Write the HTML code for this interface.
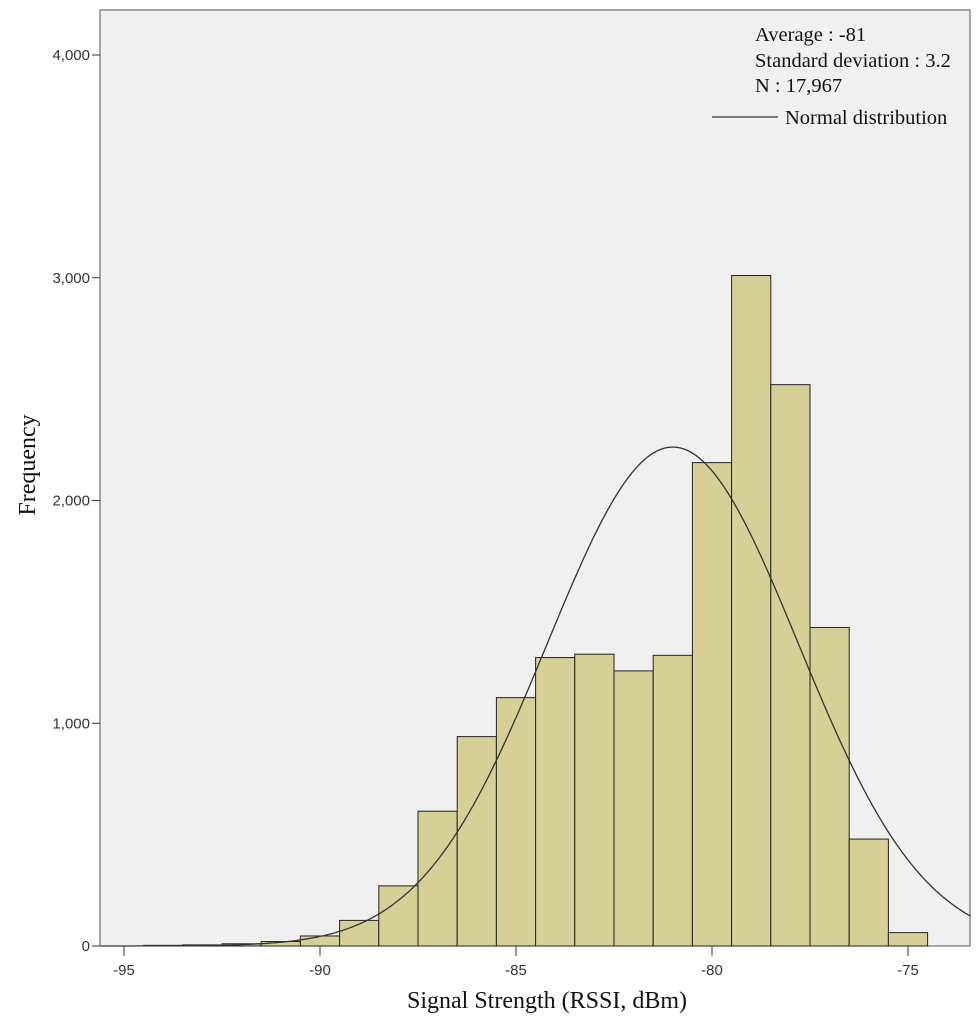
<!DOCTYPE html>
<html><head><meta charset="utf-8"><style>
body{margin:0;background:#fff;}
svg{display:block;font-family:"Liberation Sans",sans-serif;}
</style></head><body>
<svg id="chart" width="978" height="1024">
<rect x="100" y="10" width="870" height="936" fill="#f0f0f0" stroke="#555" stroke-width="1"/>
<g id="bars"></g>
<path id="curve" fill="none" stroke="#333" stroke-width="1.3"/>
<g id="axes"></g>
<g font-family="Liberation Serif, serif" font-size="20.5" fill="#111">
<text x="755" y="41">Average : -81</text>
<text x="755" y="67">Standard deviation : 3.2</text>
<text x="755" y="92">N : 17,967</text>
<line x1="712" y1="117" x2="778" y2="117" stroke="#333" stroke-width="1.3"/>
<text x="785" y="124">Normal distribution</text>
</g>
<text x="547" y="1008" text-anchor="middle" font-family="Liberation Serif, serif" font-size="24" fill="#111">Signal Strength (RSSI, dBm)</text>
<text transform="translate(35,465) rotate(-90)" text-anchor="middle" font-family="Liberation Serif, serif" font-size="24" fill="#111">Frequency</text>
</svg>
<script>
const categories=[-94,-93,-92,-91,-90,-89,-88,-87,-86,-85,-84,-83,-82,-81,-80,-79,-78,-77,-76,-75];
const counts=[3,5,10,20,45,115,270,605,940,1115,1295,1310,1235,1305,2170,3010,2520,1430,480,60];
const xTicks=[-95,-90,-85,-80,-75];
const yTicks=[0,1000,2000,3000,4000];
const yTickLabels=["0","1,000","2,000","3,000","4,000"];
const meanVal=-81, sdVal=3.2, nVal=17967, binWidth=1;
const X=v=>124+(v+95)*39.2;
const Y=v=>946-v*0.22275;
const NS="http://www.w3.org/2000/svg";
const bars=document.getElementById('bars');
categories.forEach((c,i)=>{
 const r=document.createElementNS(NS,'rect');
 const y=Y(counts[i]);
 r.setAttribute('x',X(c-0.5));r.setAttribute('y',y);
 r.setAttribute('width',X(c+0.5)-X(c-0.5));r.setAttribute('height',946-y);
 r.setAttribute('fill','#d6cf96');r.setAttribute('stroke','#222');r.setAttribute('stroke-width','1');
 
 
 bars.appendChild(r);
});
let d='';
for(let v=-95.6;v<=-73.4;v+=0.05){
 const f=nVal*binWidth/(sdVal*Math.sqrt(2*Math.PI))*Math.exp(-0.5*((v-meanVal)/sdVal)**2);
 d+=(d?'L':'M')+X(v).toFixed(1)+','+Y(f).toFixed(1);
}
document.getElementById('curve').setAttribute('d',d);
const ax=document.getElementById('axes');
function el(t,a){const e=document.createElementNS(NS,t);for(const k in a)e.setAttribute(k,a[k]);ax.appendChild(e);return e;}
xTicks.forEach(t=>{
 const l=el('line',{x1:X(t),x2:X(t),y1:946,y2:956,stroke:'#333'});
 
 
 const tx=el('text',{x:X(t),y:975,'text-anchor':'middle','font-size':'15',fill:'#333'});tx.textContent=t;
 
 
});
yTicks.forEach((t,i)=>{
 const l=el('line',{x1:92,x2:100,y1:Y(t),y2:Y(t),stroke:'#333'});
 
 
 const tx=el('text',{x:90,y:Y(t)+5,'text-anchor':'end','font-size':'15',fill:'#333'});tx.textContent=yTickLabels[i];
 
 
});
</script>
</body></html>
